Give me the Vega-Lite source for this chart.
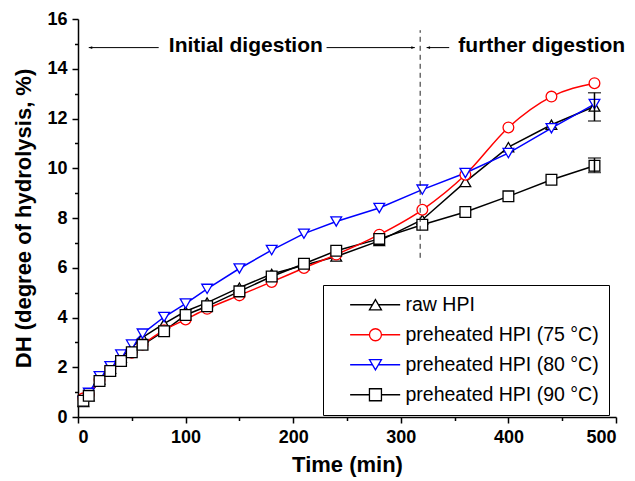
{
  "$schema": "https://vega.github.io/schema/vega-lite/v6.json",
  "width": 538,
  "height": 398,
  "autosize": "none",
  "padding": {"left": 78, "top": 19, "right": 19, "bottom": 64},
  "background": "white",
  "config": {
    "view": {"stroke": null},
    "font": "Liberation Sans",
    "axis": {
      "grid": false,
      "domainColor": "black",
      "domainWidth": 1.5,
      "tickColor": "black",
      "tickWidth": 1.5,
      "labelFont": "Liberation Sans",
      "labelFontWeight": "bold",
      "labelFontSize": 18,
      "labelColor": "black",
      "titleFont": "Liberation Sans",
      "titleFontWeight": "bold",
      "titleFontSize": 22,
      "titleColor": "black"
    }
  },
  "resolve": {"axis": {"x": "independent", "y": "independent"}},
  "layer": [
    {
      "data": {"values": [
        {"series": "raw HPI", "t": 5, "dh": 0.6}, {"series": "raw HPI", "t": 10, "dh": 0.84}, {"series": "raw HPI", "t": 20, "dh": 1.51}, {"series": "raw HPI", "t": 30, "dh": 1.94}, {"series": "raw HPI", "t": 40, "dh": 2.38}, {"series": "raw HPI", "t": 50, "dh": 2.8}, {"series": "raw HPI", "t": 60, "dh": 3.2}, {"series": "raw HPI", "t": 80, "dh": 3.75}, {"series": "raw HPI", "t": 100, "dh": 4.25}, {"series": "raw HPI", "t": 120, "dh": 4.6}, {"series": "raw HPI", "t": 150, "dh": 5.2}, {"series": "raw HPI", "t": 180, "dh": 5.75}, {"series": "raw HPI", "t": 210, "dh": 6.1}, {"series": "raw HPI", "t": 240, "dh": 6.45}, {"series": "raw HPI", "t": 280, "dh": 7.08}, {"series": "raw HPI", "t": 320, "dh": 7.93}, {"series": "raw HPI", "t": 360, "dh": 9.45}, {"series": "raw HPI", "t": 400, "dh": 10.85}, {"series": "raw HPI", "t": 440, "dh": 11.75}, {"series": "raw HPI", "t": 480, "dh": 12.48},
        {"series": "preheated HPI (75 °C)", "t": 5, "dh": 0.75}, {"series": "preheated HPI (75 °C)", "t": 10, "dh": 0.9}, {"series": "preheated HPI (75 °C)", "t": 20, "dh": 1.5}, {"series": "preheated HPI (75 °C)", "t": 30, "dh": 1.95}, {"series": "preheated HPI (75 °C)", "t": 40, "dh": 2.31}, {"series": "preheated HPI (75 °C)", "t": 50, "dh": 2.58}, {"series": "preheated HPI (75 °C)", "t": 60, "dh": 2.91}, {"series": "preheated HPI (75 °C)", "t": 80, "dh": 3.49}, {"series": "preheated HPI (75 °C)", "t": 100, "dh": 3.92}, {"series": "preheated HPI (75 °C)", "t": 120, "dh": 4.35}, {"series": "preheated HPI (75 °C)", "t": 150, "dh": 4.89}, {"series": "preheated HPI (75 °C)", "t": 180, "dh": 5.43}, {"series": "preheated HPI (75 °C)", "t": 210, "dh": 5.99}, {"series": "preheated HPI (75 °C)", "t": 240, "dh": 6.53}, {"series": "preheated HPI (75 °C)", "t": 280, "dh": 7.33}, {"series": "preheated HPI (75 °C)", "t": 320, "dh": 8.33}, {"series": "preheated HPI (75 °C)", "t": 360, "dh": 9.74}, {"series": "preheated HPI (75 °C)", "t": 400, "dh": 11.64}, {"series": "preheated HPI (75 °C)", "t": 440, "dh": 12.88}, {"series": "preheated HPI (75 °C)", "t": 480, "dh": 13.42},
        {"series": "preheated HPI (80 °C)", "t": 5, "dh": 0.63}, {"series": "preheated HPI (80 °C)", "t": 10, "dh": 0.97}, {"series": "preheated HPI (80 °C)", "t": 20, "dh": 1.64}, {"series": "preheated HPI (80 °C)", "t": 30, "dh": 2.04}, {"series": "preheated HPI (80 °C)", "t": 40, "dh": 2.51}, {"series": "preheated HPI (80 °C)", "t": 50, "dh": 2.91}, {"series": "preheated HPI (80 °C)", "t": 60, "dh": 3.35}, {"series": "preheated HPI (80 °C)", "t": 80, "dh": 4.02}, {"series": "preheated HPI (80 °C)", "t": 100, "dh": 4.56}, {"series": "preheated HPI (80 °C)", "t": 120, "dh": 5.15}, {"series": "preheated HPI (80 °C)", "t": 150, "dh": 5.97}, {"series": "preheated HPI (80 °C)", "t": 180, "dh": 6.71}, {"series": "preheated HPI (80 °C)", "t": 210, "dh": 7.37}, {"series": "preheated HPI (80 °C)", "t": 240, "dh": 7.86}, {"series": "preheated HPI (80 °C)", "t": 280, "dh": 8.4}, {"series": "preheated HPI (80 °C)", "t": 320, "dh": 9.14}, {"series": "preheated HPI (80 °C)", "t": 360, "dh": 9.81}, {"series": "preheated HPI (80 °C)", "t": 400, "dh": 10.61}, {"series": "preheated HPI (80 °C)", "t": 440, "dh": 11.61}, {"series": "preheated HPI (80 °C)", "t": 480, "dh": 12.58},
        {"series": "preheated HPI (90 °C)", "t": 5, "dh": 0.65}, {"series": "preheated HPI (90 °C)", "t": 10, "dh": 0.85}, {"series": "preheated HPI (90 °C)", "t": 20, "dh": 1.45}, {"series": "preheated HPI (90 °C)", "t": 30, "dh": 1.85}, {"series": "preheated HPI (90 °C)", "t": 40, "dh": 2.25}, {"series": "preheated HPI (90 °C)", "t": 50, "dh": 2.6}, {"series": "preheated HPI (90 °C)", "t": 60, "dh": 2.9}, {"series": "preheated HPI (90 °C)", "t": 80, "dh": 3.45}, {"series": "preheated HPI (90 °C)", "t": 100, "dh": 4.1}, {"series": "preheated HPI (90 °C)", "t": 120, "dh": 4.45}, {"series": "preheated HPI (90 °C)", "t": 150, "dh": 5.05}, {"series": "preheated HPI (90 °C)", "t": 180, "dh": 5.65}, {"series": "preheated HPI (90 °C)", "t": 210, "dh": 6.16}, {"series": "preheated HPI (90 °C)", "t": 240, "dh": 6.68}, {"series": "preheated HPI (90 °C)", "t": 280, "dh": 7.16}, {"series": "preheated HPI (90 °C)", "t": 320, "dh": 7.73}, {"series": "preheated HPI (90 °C)", "t": 360, "dh": 8.24}, {"series": "preheated HPI (90 °C)", "t": 400, "dh": 8.87}, {"series": "preheated HPI (90 °C)", "t": 440, "dh": 9.54}, {"series": "preheated HPI (90 °C)", "t": 480, "dh": 10.1}
      ]},
      "encoding": {
        "x": {"field": "t", "type": "quantitative", "scale": {"domain": [0, 500], "nice": false}, "axis": {"orient": "bottom", "values": [0, 100, 200, 300, 400, 500], "tickSize": 6, "labelPadding": 5, "title": "Time (min)", "titlePadding": 8}},
        "y": {"field": "dh", "type": "quantitative", "scale": {"domain": [0, 16], "nice": false}, "axis": {"orient": "left", "values": [0, 2, 4, 6, 8, 10, 12, 14, 16], "tickSize": 6, "labelPadding": 5, "title": "DH (degree of hydrolysis, %)", "titlePadding": 11}}
      },
      "resolve": {"scale": {"shape": "independent"}, "legend": {"color": "independent", "shape": "independent"}},
      "layer": [
        {"transform": [{"filter": "datum.series !== 'preheated HPI (75 °C)'"}], "mark": {"type": "line", "strokeWidth": 1.5, "interpolate": "linear"},
         "encoding": {"color": {"field": "series", "type": "nominal", "scale": {"domain": ["raw HPI", "preheated HPI (75 °C)", "preheated HPI (80 °C)", "preheated HPI (90 °C)"], "range": ["#000000", "#ff0000", "#0000ff", "#000000"]}, "legend": null}, "detail": {"field": "series"}}},
        {"transform": [{"filter": "datum.series === 'preheated HPI (75 °C)'"}], "mark": {"type": "line", "strokeWidth": 1.5, "interpolate": "monotone"},
         "encoding": {"color": {"field": "series", "type": "nominal", "legend": null}}},
        {
          "mark": {"type": "point", "filled": false, "fill": "white", "size": 115, "strokeWidth": 1.3, "opacity": 1},
          "encoding": {
            "color": {"field": "series", "type": "nominal", "legend": null},
            "shape": {
              "field": "series", "type": "nominal",
              "scale": {"domain": ["raw HPI", "preheated HPI (75 °C)", "preheated HPI (80 °C)", "preheated HPI (90 °C)"], "range": ["triangle-up", "circle", "triangle-down", "square"]},
              "legend": null
            }
          }
        },
        {
          "transform": [{"filter": "false"}],
          "mark": {"type": "point", "filled": false, "fill": "white", "size": 144, "strokeWidth": 1.3, "opacity": 1},
          "encoding": {
            "color": {"field": "series", "type": "nominal",
              "legend": {
                "title": null, "orient": "none", "legendX": 245, "legendY": 266,
                "strokeColor": "black", "fillColor": "white", "padding": 10,
                "labelFont": "Liberation Sans", "labelFontSize": 19.5, "labelColor": "black", "labelLimit": 0,
                "symbolSize": 144, "labelOffset": 53, "rowPadding": 9, "symbolStrokeWidth": 1.3, "symbolOpacity": 1, "symbolFillColor": "white"
              }},
            "shape": {
              "field": "series", "type": "nominal",
              "scale": {"domain": ["raw HPI", "preheated HPI (75 °C)", "preheated HPI (80 °C)", "preheated HPI (90 °C)"], "range": ["M1.23,0H4.95M5.95,0H9.57M5.45,-0.866L6.45,0.866L4.45,0.866Z", "M1.23,0H4.45M6.45,0H9.57M6.45,0A1,1 0 1,1 4.45,0A1,1 0 1,1 6.45,0Z", "M1.23,0H4.95M5.95,0H9.57M5.45,0.866L6.45,-0.866L4.45,-0.866Z", "M1.23,0H4.45M6.45,0H9.57M4.45,-1H6.45V1H4.45Z"]},
              "legend": {
                "title": null, "orient": "none", "legendX": 245, "legendY": 266,
                "strokeColor": "black", "fillColor": "white", "padding": 10,
                "labelFont": "Liberation Sans", "labelFontSize": 19.5, "labelColor": "black", "labelLimit": 0,
                "symbolSize": 144, "labelOffset": 53, "rowPadding": 9, "symbolStrokeWidth": 1.3, "symbolOpacity": 1, "symbolFillColor": "white"
              }
            }
          }
        }
      ]
    },
    {
      "data": {"values": [{"t": 480, "lo": 11.9, "hi": 13.04}, {"t": 480, "lo": 9.83, "hi": 10.41}]},
      "layer": [
        {"mark": {"type": "rule", "color": "black", "strokeWidth": 1.5}, "encoding": {"x": {"field": "t", "type": "quantitative", "axis": null}, "y": {"field": "lo", "type": "quantitative", "axis": null}, "y2": {"field": "hi"}}},
        {"mark": {"type": "tick", "orient": "horizontal", "color": "black", "size": 13, "thickness": 1.5}, "encoding": {"x": {"field": "t", "type": "quantitative", "axis": null}, "y": {"field": "lo", "type": "quantitative", "axis": null}}},
        {"mark": {"type": "tick", "orient": "horizontal", "color": "black", "size": 13, "thickness": 1.5}, "encoding": {"x": {"field": "t", "type": "quantitative", "axis": null}, "y": {"field": "hi", "type": "quantitative", "axis": null}}}
      ]
    },
    {
      "data": {"values": [{"t": 318, "y1": 6.4, "y2": 15.55}]},
      "mark": {"type": "rule", "color": "#222222", "strokeWidth": 1, "strokeDash": [5, 4]},
      "encoding": {
        "x": {"field": "t", "type": "quantitative", "axis": {"orient": "bottom", "values": [50, 150, 250, 350, 450], "tickSize": 3.5, "labels": false, "domain": false, "title": null}},
        "y": {"field": "y1", "type": "quantitative", "axis": {"orient": "left", "values": [1, 3, 5, 7, 9, 11, 13, 15], "tickSize": 3.5, "labels": false, "domain": false, "title": null}},
        "y2": {"field": "y2"}
      }
    },
    {
      "data": {"values": [{"a": 10, "b": 75, "y": 14.85}, {"a": 231, "b": 313, "y": 14.85}, {"a": 324, "b": 345, "y": 14.85}]},
      "mark": {"type": "rule", "color": "black", "strokeWidth": 1},
      "encoding": {"x": {"field": "a", "type": "quantitative", "axis": null}, "x2": {"field": "b"}, "y": {"field": "y", "type": "quantitative", "axis": null}}
    },
    {
      "data": {"values": [{"t": 10, "y": 14.85, "dir": "left"}, {"t": 313, "y": 14.85, "dir": "right"}, {"t": 324, "y": 14.85, "dir": "left"}]},
      "layer": [
        {"transform": [{"filter": "datum.dir === 'left'"}], "mark": {"type": "point", "shape": "M0,0L2,-0.8L2,0.8Z", "size": 12, "filled": true, "color": "black", "opacity": 1, "strokeWidth": 0}, "encoding": {"x": {"field": "t", "type": "quantitative", "axis": null}, "y": {"field": "y", "type": "quantitative", "axis": null}}},
        {"transform": [{"filter": "datum.dir === 'right'"}], "mark": {"type": "point", "shape": "M0,0L-2,-0.8L-2,0.8Z", "size": 12, "filled": true, "color": "black", "opacity": 1, "strokeWidth": 0}, "encoding": {"x": {"field": "t", "type": "quantitative", "axis": null}, "y": {"field": "y", "type": "quantitative", "axis": null}}}
      ]
    },
    {
      "data": {"values": [{"t": 156, "y": 14.9, "label": "Initial digestion"}, {"t": 431, "y": 14.9, "label": "further digestion"}]},
      "mark": {"type": "text", "font": "Liberation Sans", "fontWeight": "bold", "fontSize": 21, "color": "black", "align": "center", "baseline": "middle"},
      "encoding": {"x": {"field": "t", "type": "quantitative", "axis": null}, "y": {"field": "y", "type": "quantitative", "axis": null}, "text": {"field": "label"}}
    }
  ]
}
